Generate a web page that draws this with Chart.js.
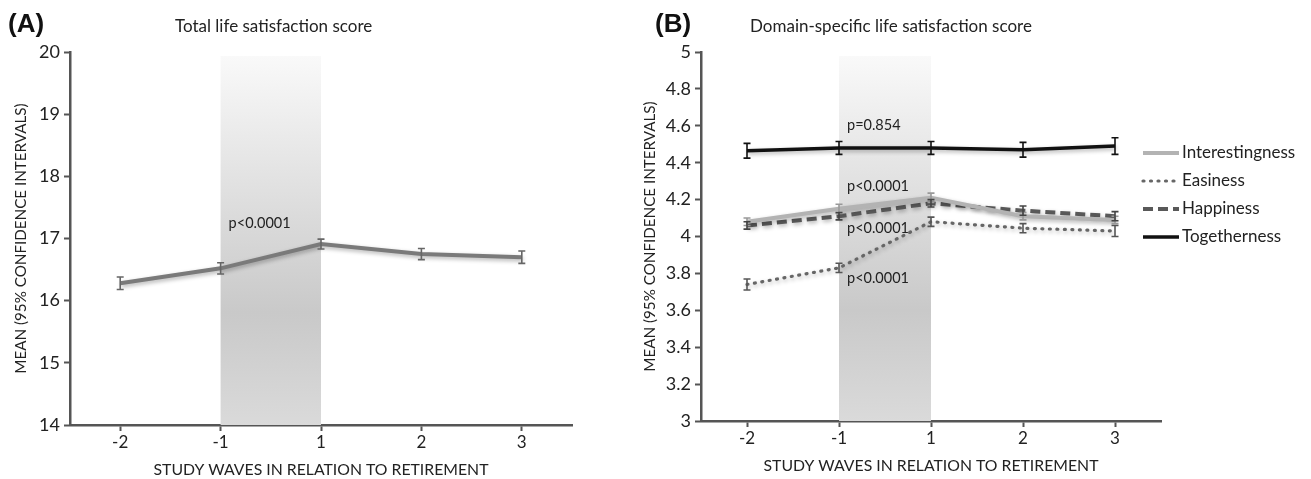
<!DOCTYPE html>
<html>
<head>
<meta charset="utf-8">
<script src="https://cdn.jsdelivr.net/npm/chart.js@4.4.1/dist/chart.umd.min.js"></script>
<style>
  html, body { margin: 0; padding: 0; background: #fff; }
  #wrapA { position: absolute; left: 0; top: 0; width: 640px; height: 479px; }
  #wrapB { position: absolute; left: 640px; top: 0; width: 671px; height: 479px; }
</style>
</head>
<body>
<div id="wrapA"><canvas id="chartA"></canvas></div>
<div id="wrapB"><canvas id="chartB"></canvas></div>
<script>
// study waves (x categories)
var waves = ['-2', '-1', '1', '2', '3'];

// panel A - total life satisfaction
var totalMean = [16.28, 16.52, 16.91, 16.75, 16.70];
var totalCI = [0.10, 0.09, 0.08, 0.09, 0.10];

// panel B - domain specific
var interestMean = [4.08, 4.15, 4.21, 4.11, 4.09];
var interestCI = [0.02, 0.025, 0.025, 0.02, 0.02];
var easeMean = [3.74, 3.83, 4.08, 4.045, 4.03];
var easeCI = [0.03, 0.025, 0.025, 0.025, 0.03];
var happyMean = [4.06, 4.11, 4.18, 4.14, 4.11];
var happyCI = [0.02, 0.02, 0.02, 0.025, 0.025];
var togetherMean = [4.465, 4.48, 4.48, 4.47, 4.49];
var togetherCI = [0.04, 0.035, 0.035, 0.04, 0.045];

// p-value notes: text and the value they sit at
var pTextA = ['p<0.0001'];
var pValueA = [17.25];
var pTextB = ['p=0.854', 'p<0.0001', 'p<0.0001', 'p<0.0001'];
var pValueB = [4.6, 4.27, 4.045, 3.775];

var FONT = "Lato, 'Open Sans', sans-serif";
var AXIS = '#555555';

// grey band between wave -1 and wave 1
var band = {
  id: 'band',
  beforeDatasetsDraw: function (chart) {
    var ctx = chart.ctx, a = chart.chartArea, x = chart.scales.x;
    var x0 = x.getPixelForValue(1), x1 = x.getPixelForValue(2);
    var g = ctx.createLinearGradient(0, a.top, 0, a.bottom);
    g.addColorStop(0, '#fafafa');
    g.addColorStop(0.7, '#c9c9c9');
    g.addColorStop(1, '#dadada');
    ctx.save();
    ctx.fillStyle = g;
    ctx.fillRect(x0, a.top + 4, x1 - x0, a.bottom - a.top - 4);
    ctx.restore();
  }
};

// soft shadow under the lines
var shadow = {
  id: 'shadow',
  beforeDatasetDraw: function (chart) {
    var ctx = chart.ctx;
    ctx.save();
    ctx.shadowColor = 'rgba(0,0,0,0.3)';
    ctx.shadowBlur = 4;
    ctx.shadowOffsetX = 1;
    ctx.shadowOffsetY = 2;
  },
  afterDatasetDraw: function (chart) {
    chart.ctx.restore();
  }
};

var errorBars = {
  id: 'errorBars',
  afterDatasetsDraw: function (chart) {
    var ctx = chart.ctx, x = chart.scales.x, y = chart.scales.y;
    chart.data.datasets.forEach(function (ds) {
      ctx.save();
      ctx.strokeStyle = ds.barColor;
      ctx.lineWidth = 1.6;
      ds.data.forEach(function (v, j) {
        var px = x.getPixelForValue(j);
        var t = y.getPixelForValue(v + ds.ci[j]);
        var b = y.getPixelForValue(v - ds.ci[j]);
        ctx.beginPath();
        ctx.moveTo(px, t); ctx.lineTo(px, b);
        ctx.moveTo(px - 3.5, t); ctx.lineTo(px + 3.5, t);
        ctx.moveTo(px - 3.5, b); ctx.lineTo(px + 3.5, b);
        ctx.stroke();
      });
      ctx.restore();
    });
  }
};

// texts: panel letter, title, p-values
var labels = {
  id: 'labels',
  afterDraw: function (chart, args, o) {
    var ctx = chart.ctx, a = chart.chartArea, x = chart.scales.x, y = chart.scales.y;
    ctx.save();
    ctx.textBaseline = 'middle';
    ctx.fillStyle = '#111';
    ctx.font = "bold 26px 'Liberation Sans', Arial, sans-serif";
    ctx.fillText(o.letter, o.letterX, 25);
    ctx.fillStyle = '#222';
    ctx.font = '17px ' + FONT;
    ctx.fillText(o.title, a.left + o.titleDx, 27);
    ctx.font = '14.5px ' + FONT;
    o.pText.forEach(function (t, i) {
      ctx.fillText(t, x.getPixelForValue(1) + 8, y.getPixelForValue(o.pValue[i]));
    });
    ctx.restore();
  }
};

var lineLegend = {
  id: 'lineLegend',
  afterDraw: function (chart) {
    var ctx = chart.ctx, a = chart.chartArea;
    var lx = a.right - 18, ly = a.top + 101;
    ctx.save();
    ctx.textBaseline = 'middle';
    ctx.font = '17px ' + FONT;
    chart.data.datasets.forEach(function (ds, i) {
      var yy = ly + i * 28;
      ctx.strokeStyle = ds.borderColor;
      ctx.lineWidth = ds.borderWidth;
      ctx.lineCap = ds.borderCapStyle || 'butt';
      ctx.setLineDash(ds.borderDash || []);
      ctx.beginPath();
      ctx.moveTo(lx, yy); ctx.lineTo(lx + 36, yy);
      ctx.stroke();
      ctx.fillStyle = '#222';
      ctx.fillText(ds.label, lx + 39, yy);
    });
    ctx.restore();
  }
};

function scales(min, max, step, yWidth, titlePad) {
  return {
    x: {
      type: 'category',
      offset: true,
      grid: { display: true, drawOnChartArea: false, offset: false, tickLength: 6, tickColor: AXIS, tickWidth: 2 },
      border: { display: true, color: AXIS, width: 2.5 },
      ticks: { color: '#222', font: { family: FONT, size: 17 }, padding: 1 },
      title: { display: true, text: 'STUDY WAVES IN RELATION TO RETIREMENT', color: '#222', font: { family: FONT, size: 15.8 }, padding: { top: 0, bottom: 0 } },
      afterFit: function (s) { s.height = 54; }
    },
    y: {
      min: min, max: max,
      grid: { display: true, drawOnChartArea: false, tickLength: 6, tickColor: AXIS, tickWidth: 2 },
      border: { display: true, color: AXIS, width: 2.5 },
      ticks: { stepSize: step, color: '#222', font: { family: FONT, size: 18 }, padding: 4,
        callback: function (v) { return Math.round(v * 10) / 10; } },
      title: { display: true, text: 'MEAN (95% CONFIDENCE INTERVALS)', color: '#222', font: { family: FONT, size: 15.2 }, padding: titlePad },
      afterFit: function (s) { s.width = yWidth; }
    }
  };
}

new Chart(document.getElementById('chartA'), {
  type: 'line',
  data: {
    labels: waves,
    datasets: [{
      label: 'Total',
      data: totalMean,
      ci: totalCI,
      barColor: '#666',
      borderColor: '#7a7a7a',
      borderWidth: 4,
      pointRadius: 0,
      tension: 0
    }]
  },
  options: {
    responsive: true,
    maintainAspectRatio: false,
    animation: false,
    layout: { padding: { left: 0, right: 68, top: 52, bottom: 0 } },
    plugins: {
      legend: { display: false },
      tooltip: { enabled: false },
      labels: { letter: '(A)', letterX: 8, title: 'Total life satisfaction score', titleDx: 105, pText: pTextA, pValue: pValueA }
    },
    scales: scales(14, 20, 1, 70, { top: 12, bottom: 0 })
  },
  plugins: [band, shadow, errorBars, labels]
});

new Chart(document.getElementById('chartB'), {
  type: 'line',
  data: {
    labels: waves,
    datasets: [{
      label: 'Interestingness',
      data: interestMean, ci: interestCI, barColor: '#999',
      borderColor: '#b3b3b3', borderWidth: 4, pointRadius: 0
    }, {
      label: 'Easiness',
      data: easeMean, ci: easeCI, barColor: '#555',
      borderColor: '#666', borderWidth: 3.2, borderDash: [1, 6.5], borderCapStyle: 'round', pointRadius: 0
    }, {
      label: 'Happiness',
      data: happyMean, ci: happyCI, barColor: '#444',
      borderColor: '#595959', borderWidth: 4, borderDash: [10, 5], pointRadius: 0
    }, {
      label: 'Togetherness',
      data: togetherMean, ci: togetherCI, barColor: '#111',
      borderColor: '#111', borderWidth: 3.5, pointRadius: 0
    }]
  },
  options: {
    responsive: true,
    maintainAspectRatio: false,
    animation: false,
    layout: { padding: { left: 0, right: 150, top: 52, bottom: 4 } },
    plugins: {
      legend: { display: false },
      tooltip: { enabled: false },
      labels: { letter: '(B)', letterX: 15, title: 'Domain-specific life satisfaction score', titleDx: 49, pText: pTextB, pValue: pValueB }
    },
    scales: scales(3, 5, 0.2, 61, { top: 1, bottom: 0 })
  },
  plugins: [band, shadow, errorBars, labels, lineLegend]
});
</script>
</body>
</html>
